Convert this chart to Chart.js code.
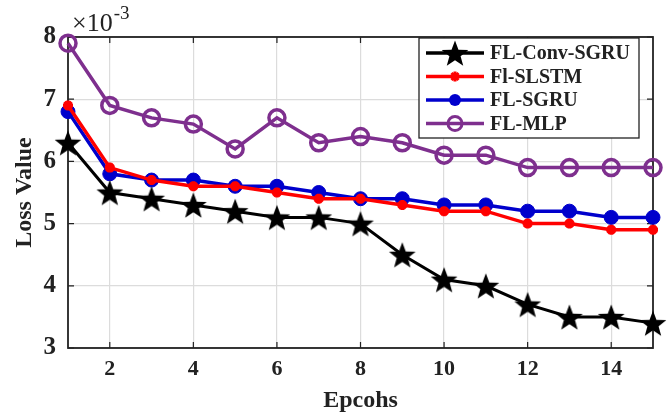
<!DOCTYPE html>
<html>
<head>
<meta charset="UTF-8">
<title>Loss Value vs Epochs</title>
<script src="https://cdn.jsdelivr.net/npm/chart.js"></script>
<style>
  html, body { margin: 0; padding: 0; background: #fff; }
  #wrap { width: 670px; height: 419px; }
</style>
</head>
<body>
<div id="wrap"><canvas id="lossChart" width="670" height="419"></canvas></div>
<script>
// values are in units of 1e-3
const epochs = [1, 2, 3, 4, 5, 6, 7, 8, 9, 10, 11, 12, 13, 14, 15];
const convSgru = [6.3, 5.5, 5.4, 5.3, 5.2, 5.1, 5.1, 5.0, 4.5, 4.1, 4.0, 3.7, 3.5, 3.5, 3.4];
const slstm    = [6.9, 5.9, 5.7, 5.6, 5.6, 5.5, 5.4, 5.4, 5.3, 5.2, 5.2, 5.0, 5.0, 4.9, 4.9];
const sgru     = [6.8, 5.8, 5.7, 5.7, 5.6, 5.6, 5.5, 5.4, 5.4, 5.3, 5.3, 5.2, 5.2, 5.1, 5.1];
const mlp      = [7.9, 6.9, 6.7, 6.6, 6.2, 6.7, 6.3, 6.4, 6.3, 6.1, 6.1, 5.9, 5.9, 5.9, 5.9];
const seriesNames = ['FL-Conv-SGRU', 'Fl-SLSTM', 'FL-SGRU', 'FL-MLP'];
const xTicks = [2, 4, 6, 8, 10, 12, 14];
const yTicks = [3, 4, 5, 6, 7, 8];

const FONT = '"Liberation Serif", "Times New Roman", serif';

// filled five point star for the black series
function makeStar(r, color) {
  const c = document.createElement('canvas');
  c.width = c.height = r * 2 + 2;
  const g = c.getContext('2d');
  g.fillStyle = color;
  g.beginPath();
  for (let i = 0; i < 10; i++) {
    const rad = i % 2 === 0 ? r : r * 0.42;
    const a = -Math.PI / 2 + i * Math.PI / 5;
    const px = c.width / 2 + rad * Math.cos(a);
    const py = c.height / 2 + rad * Math.sin(a) + r * 0.1;
    if (i === 0) g.moveTo(px, py); else g.lineTo(px, py);
  }
  g.closePath();
  g.fill();
  return c;
}
const star = makeStar(14, '#000');

function pts(arr) { return arr.map((v, i) => ({ x: epochs[i], y: v })); }

const datasets = [
  { label: seriesNames[0], data: pts(convSgru), borderColor: '#000', backgroundColor: '#000',
    borderWidth: 3, pointStyle: star, pointRadius: 14 },
  { label: seriesNames[1], data: pts(slstm), borderColor: '#ff0000', backgroundColor: '#ff0000',
    borderWidth: 3.5, pointStyle: 'star', pointRadius: 5, pointBorderWidth: 3.5 },
  { label: seriesNames[2], data: pts(sgru), borderColor: '#0000cc', backgroundColor: '#0000cc',
    borderWidth: 3.5, pointStyle: 'circle', pointRadius: 7, pointBorderWidth: 1 },
  { label: seriesNames[3], data: pts(mlp), borderColor: '#7e2f8e', backgroundColor: 'rgba(0,0,0,0)',
    borderWidth: 3.5, pointStyle: 'circle', pointRadius: 8, pointBorderWidth: 3.5 }
];
datasets.forEach(d => { d.clip = false; });

// box around plot, x10^-3 label and the legend inside the plot
const framePlugin = {
  id: 'frame',
  beforeDatasetsDraw(chart) {
    const { ctx, chartArea: a } = chart;
    ctx.save();
    ctx.strokeStyle = '#222';
    ctx.lineWidth = 1.8;
    ctx.strokeRect(a.left, a.top, a.right - a.left, a.bottom - a.top);
    // small inward tick marks, matlab style
    ctx.lineWidth = 1.2;
    const xs = chart.scales.x, ys = chart.scales.y;
    ctx.beginPath();
    xTicks.forEach(v => {
      const px = xs.getPixelForValue(v);
      ctx.moveTo(px, a.bottom); ctx.lineTo(px, a.bottom - 6);
      ctx.moveTo(px, a.top); ctx.lineTo(px, a.top + 6);
    });
    yTicks.forEach(v => {
      const py = ys.getPixelForValue(v);
      ctx.moveTo(a.left, py); ctx.lineTo(a.left + 6, py);
      ctx.moveTo(a.right, py); ctx.lineTo(a.right - 6, py);
    });
    ctx.stroke();
    ctx.restore();
  },
  afterDraw(chart) {
    const { ctx, chartArea: a } = chart;
    ctx.save();
    // exponent label
    ctx.fillStyle = '#222';
    ctx.font = '26px ' + FONT;
    ctx.textBaseline = 'alphabetic';
    const base = '\u00d710';
    ctx.fillText(base, a.left + 4, a.top - 6);
    const bw = ctx.measureText(base).width;
    ctx.font = '19px ' + FONT;
    ctx.fillText('-3', a.left + 5 + bw, a.top - 18);

    // legend
    const lx = 419, ly = 38, lw = 220, lh = 100;
    ctx.fillStyle = '#fff';
    ctx.fillRect(lx, ly, lw, lh);
    ctx.strokeStyle = '#222';
    ctx.lineWidth = 1.3;
    ctx.strokeRect(lx, ly, lw, lh);
    ctx.font = 'bold 20px ' + FONT;
    ctx.textBaseline = 'middle';
    chart.data.datasets.forEach((ds, i) => {
      const cy = ly + 15 + i * 23.5;
      const x0 = lx + 7, x1 = lx + 65, mx = (x0 + x1) / 2;
      ctx.strokeStyle = ds.borderColor;
      ctx.lineWidth = 3.5;
      ctx.beginPath(); ctx.moveTo(x0, cy); ctx.lineTo(x1, cy); ctx.stroke();
      if (ds.pointStyle === star) {
        ctx.drawImage(star, mx - star.width / 2, cy - star.height / 2);
      } else if (ds.pointStyle === 'star') {
        ctx.lineWidth = 3;
        ctx.beginPath();
        for (let k = 0; k < 4; k++) {
          const ang = k * Math.PI / 4;
          ctx.moveTo(mx - 5 * Math.cos(ang), cy - 5 * Math.sin(ang));
          ctx.lineTo(mx + 5 * Math.cos(ang), cy + 5 * Math.sin(ang));
        }
        ctx.stroke();
      } else {
        ctx.beginPath(); ctx.arc(mx, cy, ds.pointRadius - 1, 0, Math.PI * 2);
        if (ds.backgroundColor !== 'rgba(0,0,0,0)') { ctx.fillStyle = ds.backgroundColor; ctx.fill(); }
        else { ctx.lineWidth = 3; ctx.stroke(); }
      }
      ctx.fillStyle = '#222';
      ctx.fillText(ds.label, x1 + 6, cy + 1);
    });
    ctx.restore();
  }
};

new Chart(document.getElementById('lossChart'), {
  type: 'line',
  data: { datasets: datasets },
  options: {
    responsive: false,
    animation: false,
    layout: { padding: { left: 6, right: 12, top: 37, bottom: 0 } },
    plugins: { legend: { display: false }, tooltip: { enabled: false } },
    elements: { line: { tension: 0 } },
    scales: {
      x: {
        type: 'linear', min: 1, max: 15,
        afterBuildTicks: s => { s.ticks = xTicks.map(v => ({ value: v })); },
        afterFit: s => { s.height = 71; },
        grid: { color: '#dcdcdc', lineWidth: 1.2, drawTicks: false },
        border: { display: false },
        ticks: { color: '#222', padding: 8, font: { family: FONT, size: 22, weight: 'bold' } },
        title: { display: true, text: 'Epcohs', color: '#222', padding: { top: -4 },
                 font: { family: FONT, size: 24, weight: 'bold' } }
      },
      y: {
        min: 3, max: 8,
        afterBuildTicks: s => { s.ticks = yTicks.map(v => ({ value: v })); },
        afterFit: s => { s.width = 62; },
        grid: { color: '#dcdcdc', lineWidth: 1.2, drawTicks: false },
        border: { display: false },
        ticks: { color: '#222', padding: 12, font: { family: FONT, size: 25, weight: 'bold' } },
        title: { display: true, text: 'Loss Value', color: '#222', padding: { bottom: 0 },
                 font: { family: FONT, size: 24, weight: 'bold' } }
      }
    }
  },
  plugins: [framePlugin]
});
</script>
</body>
</html>
